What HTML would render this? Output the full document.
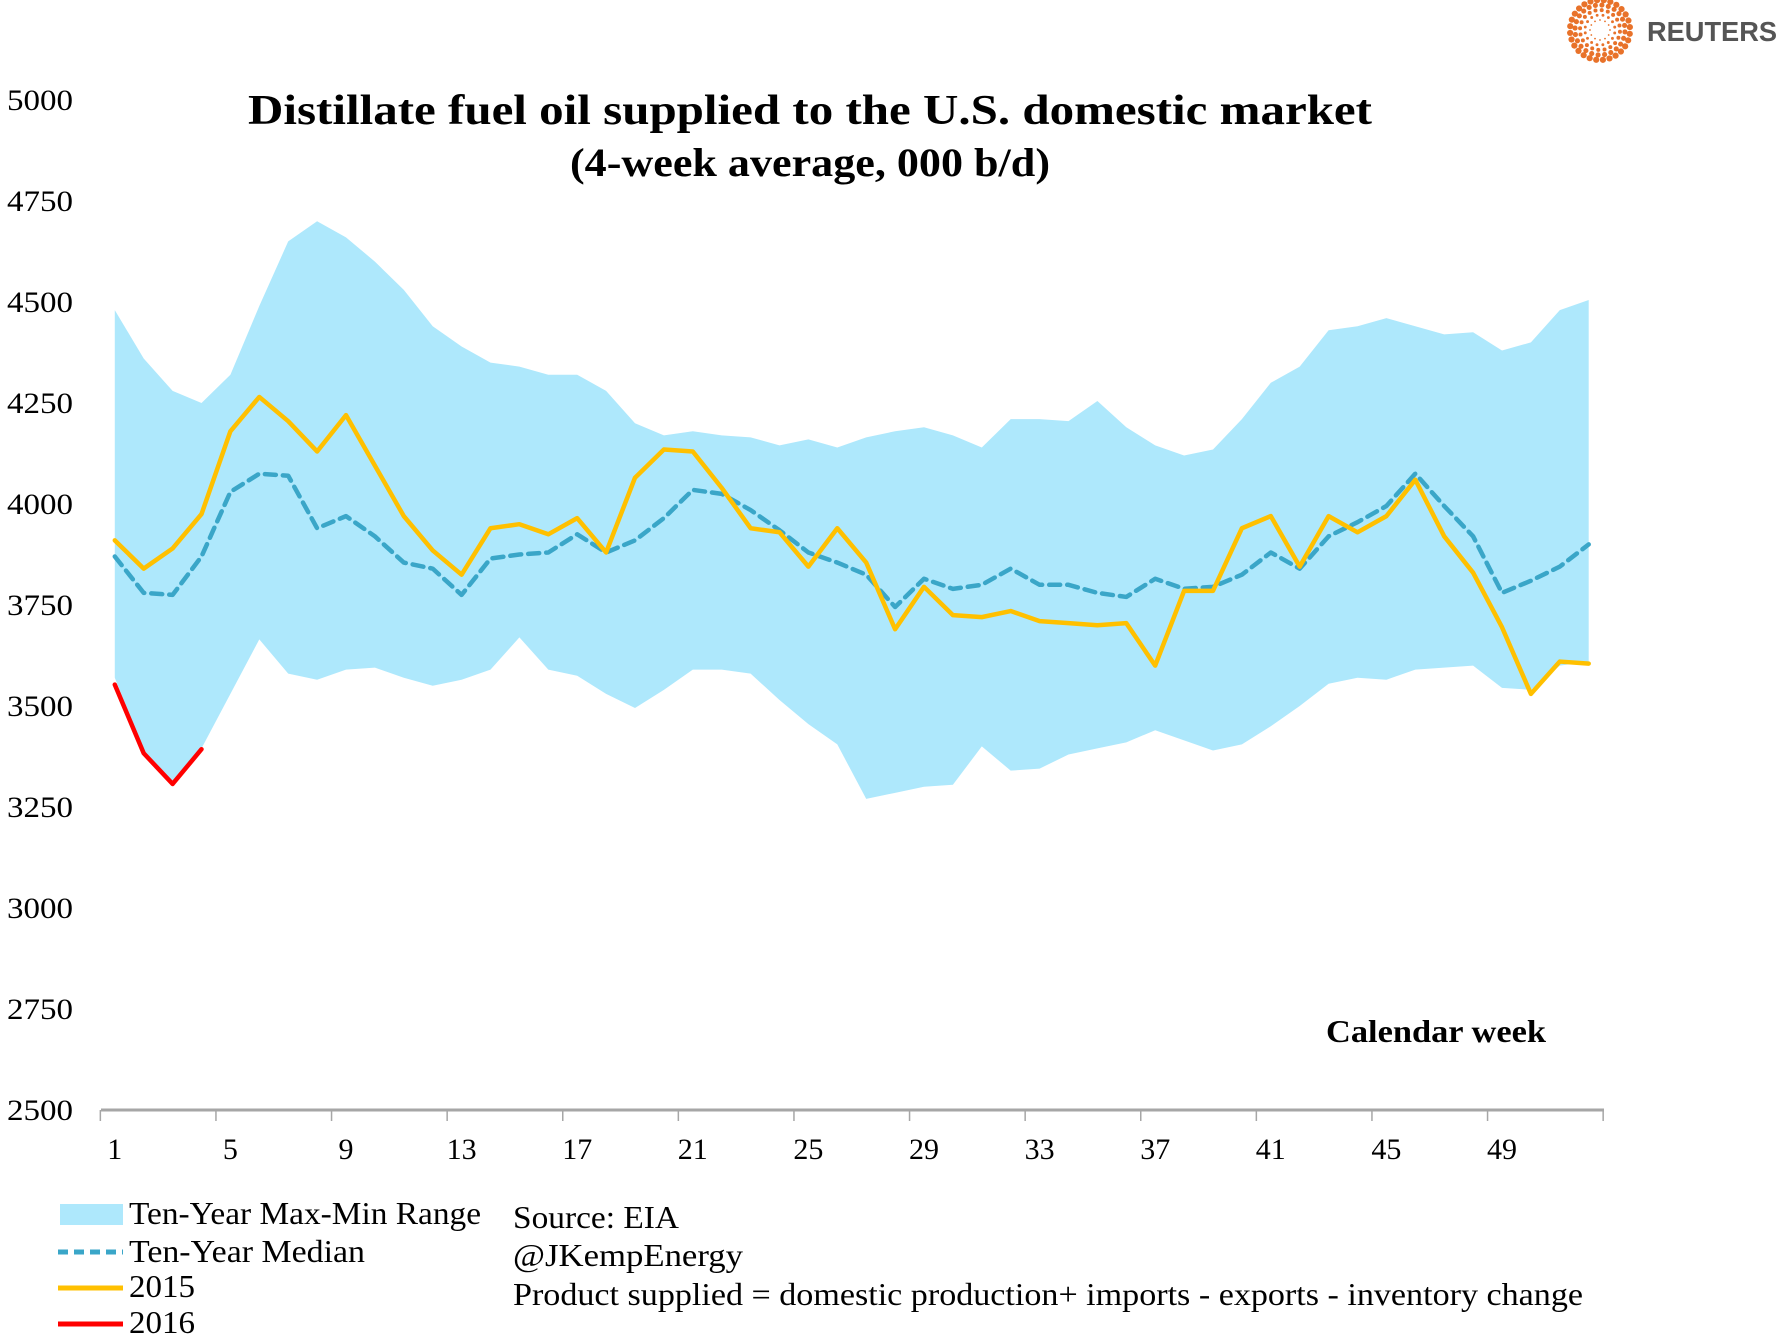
<!DOCTYPE html>
<html><head><meta charset="utf-8">
<style>
html,body{margin:0;padding:0;background:#fff;}
svg{display:block;}
text{font-family:"Liberation Serif",serif;fill:#000;}
</style></head>
<body>
<svg id="chart" width="1791" height="1344" viewBox="0 0 1791 1344">
  <g id="logo"></g>
  <text x="1712" y="41" text-anchor="middle" style="font-family:'Liberation Sans',sans-serif;font-weight:bold;font-size:28px;fill:#555" textLength="130" lengthAdjust="spacingAndGlyphs">REUTERS</text>
  <text x="810" y="124" text-anchor="middle" font-weight="bold" font-size="42" textLength="1124" lengthAdjust="spacingAndGlyphs">Distillate fuel oil supplied to the U.S. domestic market</text>
  <text x="810" y="176" text-anchor="middle" font-weight="bold" font-size="40" textLength="480" lengthAdjust="spacingAndGlyphs">(4-week average, 000 b/d)</text>
  <g id="plot"></g>
  <text x="1436" y="1042" text-anchor="middle" font-weight="bold" font-size="32" textLength="220" lengthAdjust="spacingAndGlyphs">Calendar week</text>
  <g>
    <rect x="60" y="1204" width="63" height="21" fill="#aee8fc"/>
    <text x="129" y="1224" font-size="32" textLength="352" lengthAdjust="spacingAndGlyphs">Ten-Year Max-Min Range</text>
    <line x1="58" y1="1252" x2="123" y2="1252" stroke="#3aa6c8" stroke-width="5" stroke-dasharray="10,6"/>
    <text x="129" y="1262" font-size="32" textLength="236" lengthAdjust="spacingAndGlyphs">Ten-Year Median</text>
    <line x1="58" y1="1288" x2="123" y2="1288" stroke="#ffc000" stroke-width="5"/>
    <text x="129" y="1297" font-size="32" textLength="66" lengthAdjust="spacingAndGlyphs">2015</text>
    <line x1="58" y1="1324" x2="123" y2="1324" stroke="#ff0000" stroke-width="5"/>
    <text x="129" y="1333" font-size="32" textLength="66" lengthAdjust="spacingAndGlyphs">2016</text>
  </g>
  <text x="513" y="1228" font-size="32" textLength="166" lengthAdjust="spacingAndGlyphs">Source: EIA</text>
  <text x="513" y="1266" font-size="32" textLength="230" lengthAdjust="spacingAndGlyphs">@JKempEnergy</text>
  <text x="513" y="1305" font-size="32" textLength="1070" lengthAdjust="spacingAndGlyphs">Product supplied = domestic production+ imports - exports - inventory change</text>
</svg>
<script>
const weeks = [];
for (let i = 1; i <= 52; i++) weeks.push(i);
const rangeMax = [4480,4360,4280,4250,4320,4490,4650,4700,4660,4600,4530,4440,4390,4350,4340,4320,4320,4280,4200,4170,4180,4170,4165,4145,4160,4140,4165,4180,4190,4170,4140,4210,4210,4205,4255,4190,4145,4120,4135,4210,4300,4340,4430,4440,4460,4440,4420,4425,4380,4400,4480,4505];
const rangeMin = [3570,3390,3307,3395,3530,3665,3580,3565,3590,3595,3570,3550,3565,3590,3670,3590,3575,3530,3495,3540,3590,3590,3580,3515,3455,3405,3270,3285,3300,3305,3400,3340,3345,3380,3395,3410,3440,3415,3390,3405,3450,3500,3555,3570,3565,3590,3595,3600,3545,3540,3600,3610];
const median = [3870,3780,3775,3870,4030,4075,4070,3940,3970,3920,3855,3840,3775,3865,3875,3880,3925,3880,3910,3965,4035,4025,3985,3935,3880,3855,3825,3745,3815,3790,3800,3840,3800,3800,3780,3770,3815,3790,3795,3825,3880,3840,3920,3955,3995,4075,3995,3920,3780,3810,3845,3900];
const y2015 = [3910,3840,3890,3975,4180,4265,4205,4130,4220,4095,3970,3885,3825,3940,3950,3925,3965,3880,4065,4135,4130,4040,3940,3930,3845,3940,3855,3690,3795,3725,3720,3735,3710,3705,3700,3705,3600,3785,3785,3940,3970,3845,3970,3930,3970,4060,3920,3830,3695,3530,3610,3605];
const y2016 = [3553,3383,3307,3393];
const yTicks = [2500,2750,3000,3250,3500,3750,4000,4250,4500,4750,5000];
const xLabels = [1,5,9,13,17,21,25,29,33,37,41,45,49];

const NS = 'http://www.w3.org/2000/svg';
const X = w => 114.8 + (w - 1) * 28.9;
const Y = v => 1110 - (v - 2500) / 250 * 101;
const plot = document.getElementById('plot');
function mk(tag, attrs) {
  const e = document.createElementNS(NS, tag);
  for (const k in attrs) e.setAttribute(k, attrs[k]);
  plot.appendChild(e);
  return e;
}
let d = '';
weeks.forEach((w, i) => { d += (i ? 'L' : 'M') + X(w) + ',' + Y(rangeMax[i]); });
for (let i = weeks.length - 1; i >= 0; i--) d += 'L' + X(weeks[i]) + ',' + Y(rangeMin[i]);
const band = mk('path', {d: d + 'Z', fill: '#aee8fc'});


function line(vals, color, dash, name) {
  const p = vals.map((v, i) => (i ? 'L' : 'M') + X(weeks[i]) + ',' + Y(v)).join('');
  const el = mk('path', {d: p, fill: 'none', stroke: color, 'stroke-width': 4.5, 'stroke-linejoin': 'round', 'stroke-linecap': 'round'});
  if (dash) el.setAttribute('stroke-dasharray', dash);
  
  
}
line(median, '#3aa6c8', '11,7', 'median-line');
line(y2015, '#ffc000', null, 'line-2015');
line(y2016, '#ff0000', null, 'line-2016');
const ax = mk('line', {x1: 101, y1: 1110, x2: 1604, y2: 1110, stroke: '#a6a6a6', 'stroke-width': 3});


for (let k = 0; k <= 13; k++) {
  const w = k < 13 ? 0.5 + 4 * k : 52.5;
  const t = mk('line', {x1: X(w), y1: 1110, x2: X(w), y2: 1121, stroke: '#a6a6a6', 'stroke-width': 1.5});
  
  
}
xLabels.forEach(w => {
  const t = mk('text', {x: X(w), y: 1159, 'text-anchor': 'middle', 'font-size': 30});
  t.textContent = w;
  
  
});
yTicks.forEach(v => {
  const t = mk('text', {x: 7, y: Y(v) + 10, 'font-size': 30, textLength: 66, lengthAdjust: 'spacingAndGlyphs'});
  t.textContent = v;
  
  
});
const logo = document.getElementById('logo');
for (let r = 0; r < 5; r++) {
  const rad = 10 + r * 5, n = 12 + r * 4, sz = 0.9 + r * 0.55;
  for (let j = 0; j < n; j++) {
    const a = j / n * Math.PI * 2 + r * 0.2;
    const c = document.createElementNS(NS, 'circle');
    c.setAttribute('cx', 1600 + rad * Math.cos(a));
    c.setAttribute('cy', 30 + rad * Math.sin(a));
    c.setAttribute('r', sz);
    c.setAttribute('fill', '#e8722a');
    logo.appendChild(c);
  }
}
</script>
</body></html>
